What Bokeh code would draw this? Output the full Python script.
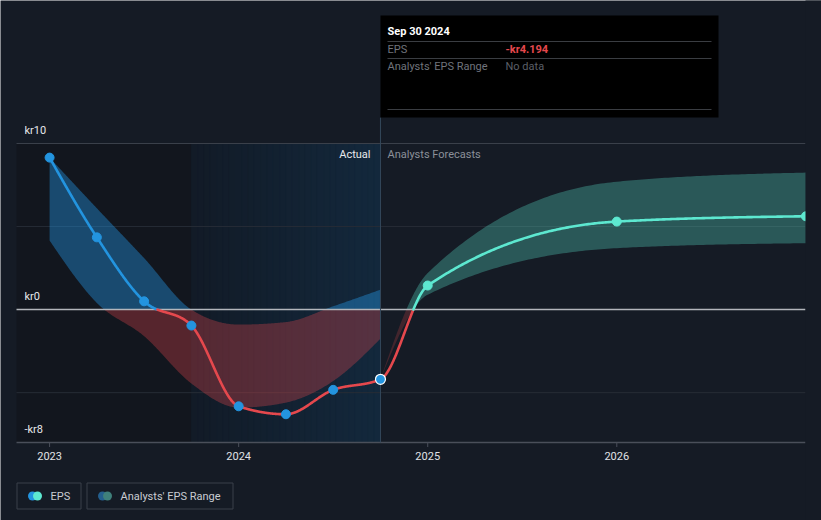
import numpy as np
from bokeh.plotting import figure
from bokeh.models import Range1d
from bokeh.core.properties import value
from bokeh.embed import file_html
from bokeh.resources import INLINE

# ---------------- data ----------------
actual_dates = [2023.0, 2023.25, 2023.5, 2023.75, 2024.0, 2024.25, 2024.5, 2024.75]
actual_eps = [9.15, 4.35, 0.5, -0.96, -5.82, -6.3, -4.83, -4.194]
past_low = [4.16, 0.4, -1.6, -4.45, -5.9, -5.6, -4.3, -1.75]
past_high = [9.15, 6.1, 3.1, 0.0, -0.9, -0.75, 0.2, 1.2]

fc_dates = [2024.75, 2025.0, 2026.0, 2027.0]
fc_eps = [-4.194, 1.45, 5.3, 5.62]
fc_low = [-4.194, 0.9, 3.7, 4.0]
fc_high = [-4.194, 2.2, 7.7, 8.25]

year_ticks = [2023, 2024, 2025, 2026]
year_labels = ["2023", "2024", "2025", "2026"]
y_label_vals = [10, 0, -8]
y_label_text = ["kr10", "kr0", "-kr8"]
grid_vals = [5, -5]
legend_labels = ["EPS", "Analysts' EPS Range"]

BG = "#151b25"
FONT = "Roboto"
BLUE = "#2394df"
TEAL = "#5de8d0"
RED = "#e5484d"


def monotone(xs, ys, n=60):
    xs = np.asarray(xs, float)
    ys = np.asarray(ys, float)
    h = np.diff(xs)
    s = np.diff(ys) / h
    m = len(xs)
    t = np.zeros(m)
    sg = lambda v: -1.0 if v < 0 else 1.0
    for i in range(1, m - 1):
        p_ = (s[i - 1] * h[i] + s[i] * h[i - 1]) / (h[i - 1] + h[i])
        t[i] = (sg(s[i - 1]) + sg(s[i])) * min(abs(s[i - 1]), abs(s[i]), 0.5 * abs(p_))
    if m > 2:
        t[0] = (3 * s[0] - t[1]) / 2
        t[-1] = (3 * s[-1] - t[-2]) / 2
    else:
        t[:] = s[0]
    ox, oy = [], []
    for i in range(m - 1):
        u = np.linspace(0, 1, n, endpoint=(i == m - 2))
        h00 = 2 * u**3 - 3 * u**2 + 1
        h10 = u**3 - 2 * u**2 + u
        h01 = -2 * u**3 + 3 * u**2
        h11 = u**3 - u**2
        ox.extend(xs[i] + u * h[i])
        oy.extend(h00 * ys[i] + h10 * h[i] * t[i] + h01 * ys[i + 1] + h11 * h[i] * t[i + 1])
    return np.array(ox), np.array(oy)


# ---------------- layout helpers (page pixels) ----------------
PL, PR = 16, 805                       # plot area left/right on the page
X0, X1 = 2022.825, 2026.998            # values at PL / PR
YMAX, YMIN = 10, -8                    # values at page y 143 / 442
W, H = 821, 520


def xd(px):
    return X0 + (px - PL) / (PR - PL) * (X1 - X0)


def yd(py):
    return 10 - (py - 143) * 18 / 299


p = figure(width=W, height=H, output_backend="svg", toolbar_location=None,
           x_range=Range1d(xd(0), xd(W)), y_range=Range1d(yd(H), yd(0)),
           min_border=0, min_border_left=0, min_border_right=0, min_border_top=0, min_border_bottom=0)
p.background_fill_color = BG
p.border_fill_color = BG
p.outline_line_color = None
p.grid.visible = False
p.axis.visible = False

# background regions
split = actual_dates[3]
last = actual_dates[-1]
p.quad(left=[X0], right=[split], bottom=[YMIN], top=[YMAX], fill_color="#12161e", line_color=None)
nstrip = 30
edges = np.linspace(split, last, nstrip + 1)
c0 = np.array([18, 27, 39])
c1 = np.array([20, 41, 61])
cols = []
for k in range(nstrip):
    f = (k + 0.5) / nstrip
    c = (c0 + (c1 - c0) * f).astype(int)
    cols.append("#%02x%02x%02x" % tuple(c))
p.quad(left=edges[:-1], right=edges[1:], bottom=YMIN, top=YMAX, fill_color=cols, line_color=cols)

# grid lines
p.segment(x0=X0, x1=X1, y0=[YMAX], y1=[YMAX], line_color="#3a404a", line_width=1)
p.segment(x0=X0, x1=X1, y0=grid_vals, y1=grid_vals, line_color="#262c36", line_width=1)

# x axis (line, ticks, labels) through the scales
p.segment(x0=X0, x1=X1, y0=[YMIN], y1=[YMIN], line_color="#4a4f5a", line_width=1.5)
p.segment(x0=year_ticks, x1=year_ticks, y0=YMIN, y1=yd(446.5), line_color="#4a4f5a", line_width=1)
p.text(x=year_ticks, y=yd(455.5), text=year_labels, text_font=value(FONT), text_font_size="11px",
       text_color="#e0e2e6", text_align="center", text_baseline="middle")

# past band
bx, blo = monotone(actual_dates, past_low)
_, bhi = monotone(actual_dates, past_high)
p.varea(x=bx, y1=np.maximum(blo, 0), y2=np.maximum(bhi, 0), fill_color=BLUE, fill_alpha=0.42)
p.varea(x=bx, y1=np.minimum(blo, 0), y2=np.minimum(bhi, 0), fill_color=RED, fill_alpha=0.32)

# forecast band
fx, flo = monotone(fc_dates, fc_low)
_, fhi = monotone(fc_dates, fc_high)
p.varea(x=fx, y1=np.maximum(flo, 0), y2=np.maximum(fhi, 0), fill_color=TEAL, fill_alpha=0.3)
p.varea(x=fx, y1=np.minimum(flo, 0), y2=np.minimum(fhi, 0), fill_color=RED, fill_alpha=0.22)

# zero line
p.segment(x0=X0, x1=X1, y0=[0], y1=[0], line_color="#b3b6bc", line_width=1.5)

# vertical marker line
p.segment(x0=[last], x1=[last], y0=[YMIN], y1=[yd(117)], line_color="#34485a", line_width=1)

# EPS line, coloured by sign / period
all_x = actual_dates + fc_dates[1:]
all_y = actual_eps + fc_eps[1:]
lx, ly = monotone(all_x, all_y, n=120)


def cat(x, y):
    if y < 0:
        return RED
    return BLUE if x <= last + 1e-9 else TEAL


runs = []
cur_x, cur_y = [lx[0]], [ly[0]]
cur_c = cat(lx[0], ly[0])
for i in range(1, len(lx)):
    c = cat(lx[i], ly[i])
    if c != cur_c:
        if (ly[i - 1] < 0) != (ly[i] < 0):
            f = ly[i - 1] / (ly[i - 1] - ly[i])
            zx = lx[i - 1] + f * (lx[i] - lx[i - 1])
            cur_x.append(zx)
            cur_y.append(0.0)
            runs.append((cur_x, cur_y, cur_c))
            cur_x, cur_y = [zx, lx[i]], [0.0, ly[i]]
        else:
            cur_x.append(lx[i])
            cur_y.append(ly[i])
            runs.append((cur_x, cur_y, cur_c))
            cur_x, cur_y = [lx[i]], [ly[i]]
        cur_c = c
    else:
        cur_x.append(lx[i])
        cur_y.append(ly[i])
runs.append((cur_x, cur_y, cur_c))
for rx, ry, rc in runs:
    p.line(rx, ry, line_color=rc, line_width=2.6, line_join="round", line_cap="round")

# markers
p.scatter(actual_dates[:-1], actual_eps[:-1], size=9, fill_color=BLUE, line_color=BLUE)
p.scatter([actual_dates[-1]], [actual_eps[-1]], size=10, fill_color=BLUE, line_color="white", line_width=1.2)
p.scatter(fc_dates[1:], fc_eps[1:], size=9, fill_color=TEAL, line_color=TEAL)

# plot-area clip on the right edge
p.quad(left=[X1], right=[xd(W + 2)], bottom=[yd(H + 2)], top=[yd(-2)], fill_color=BG, line_color=None)

# y labels
p.text(x=xd(24), y=y_label_vals, text=y_label_text, y_offset=-13,
       text_font=value(FONT), text_font_size="11px", text_color="#e6e8eb",
       text_baseline="middle", text_align="left")

# period labels
p.text(x=[xd(370)], y=[yd(154)], text=["Actual"], text_font=value(FONT), text_font_size="11px",
       text_color="#e8eaed", text_baseline="middle", text_align="right")
p.text(x=[xd(387)], y=[yd(154)], text=["Analysts Forecasts"], text_font=value(FONT),
       text_font_size="11px", text_color="#8b9099", text_baseline="middle", text_align="left")

# tooltip
p.quad(left=[xd(380)], right=[xd(718)], top=[yd(15)], bottom=[yd(117)], fill_color="black", line_color=None)
p.segment(x0=xd(387), x1=xd(711), y0=[yd(41), yd(58), yd(109)], y1=[yd(41), yd(58), yd(109)],
          line_color="#3a3d42", line_width=1)
p.text(x=[xd(387)], y=[yd(31)], text=["Sep 30 2024"], text_font=value(FONT), text_font_size="11px",
       text_font_style="bold", text_color="#ffffff", text_baseline="middle")
p.text(x=xd(387), y=[yd(49), yd(66)], text=["EPS", "Analysts' EPS Range"], text_font=value(FONT),
       text_font_size="11px", text_color="#70747c", text_baseline="middle")
p.text(x=[xd(505)], y=[yd(49)], text=["-kr%.3f" % abs(actual_eps[-1])], text_font=value(FONT),
       text_font_size="11px", text_font_style="bold", text_color="#e5484d", text_baseline="middle")
p.text(x=[xd(505)], y=[yd(66)], text=["No data"], text_font=value(FONT),
       text_font_size="11px", text_color="#5b5f67", text_baseline="middle")

# legend
p.quad(left=[xd(16.5), xd(86.5)], right=[xd(80.5), xd(232.5)], top=yd(482.5), bottom=yd(508.5),
       fill_color=None, line_color="#3a404b", line_width=1)
p.scatter([xd(32), xd(102)], yd(495.5), size=9, fill_color=[BLUE, "#245f8e"], line_color=None)
p.scatter([xd(37), xd(107)], yd(495.5), size=9, fill_color=[TEAL, "#3f807b"], line_color=None)
p.text(x=[xd(50), xd(120)], y=yd(495.5), text=legend_labels, text_font=value(FONT),
       text_font_size="11px", text_color="#c9ccd2", text_baseline="middle")

html = file_html(p, INLINE)
html = html.replace("<body>", '<body style="background-color:#151b25;">', 1)
open("out.html", "w").write(html)
